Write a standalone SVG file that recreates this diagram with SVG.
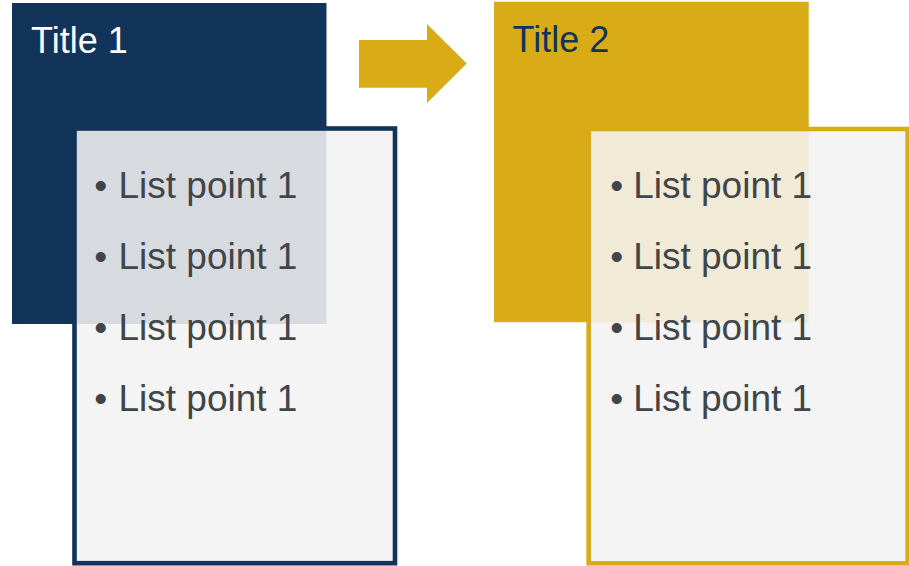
<svg xmlns="http://www.w3.org/2000/svg" width="909" height="566" viewBox="0 0 909 566">
  <style>
    .title { font-family: "Liberation Sans", Arial, sans-serif; font-size: 36px; }
    .item { font-family: "Liberation Sans", Arial, sans-serif; font-size: 37px; fill: #3F4549; }
    .bullet { font-family: "Liberation Sans", Arial, sans-serif; font-size: 37px; fill: #3F4549; text-anchor: middle; }
    .panel { fill: #F2F2F2; fill-opacity: 0.88; stroke-width: 4.6; }
  </style>
  <rect width="909" height="566" fill="#FFFFFF"/>
  <g id="title1">
    <rect x="12" y="3" width="314.5" height="321" fill="#13345A"/>
    <text class="title" x="31" y="52.5" fill="#FFFFFF">Title 1</text>
  </g>
  <g id="title2">
    <rect x="494" y="1.7" width="314.7" height="320.5" fill="#D8AB17"/>
    <text class="title" x="512.5" y="51.5" fill="#13345A">Title 2</text>
  </g>
  <g id="list1">
    <rect class="panel" x="74.5" y="128.5" width="320.5" height="434.7" stroke="#13345A"/>
    <text class="bullet" x="100.7" y="198">•</text>
    <text class="item" x="118.5" y="198">List point 1</text>
    <text class="bullet" x="100.7" y="269">•</text>
    <text class="item" x="118.5" y="269">List point 1</text>
    <text class="bullet" x="100.7" y="340">•</text>
    <text class="item" x="118.5" y="340">List point 1</text>
    <text class="bullet" x="100.7" y="411">•</text>
    <text class="item" x="118.5" y="411">List point 1</text>
  </g>
  <g id="list2">
    <rect class="panel" x="588.7" y="129" width="319" height="434.3" stroke="#D8AB17"/>
    <text class="bullet" x="616.7" y="198">•</text>
    <text class="item" x="633.2" y="198">List point 1</text>
    <text class="bullet" x="616.7" y="269">•</text>
    <text class="item" x="633.2" y="269">List point 1</text>
    <text class="bullet" x="616.7" y="340">•</text>
    <text class="item" x="633.2" y="340">List point 1</text>
    <text class="bullet" x="616.7" y="411">•</text>
    <text class="item" x="633.2" y="411">List point 1</text>
  </g>
  <g id="connectors">
    <polygon points="359,40 427,40 427,24 466.7,63.5 427,103 427,87.7 359,87.7" fill="#D8AB17"/>
  </g>
</svg>
